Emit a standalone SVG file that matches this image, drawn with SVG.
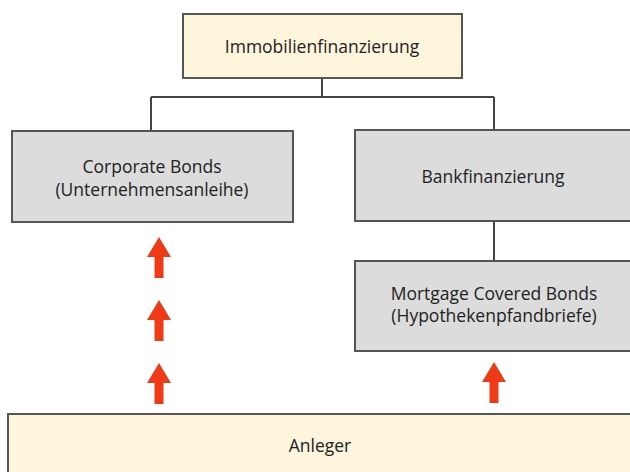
<svg xmlns="http://www.w3.org/2000/svg" width="630" height="472" viewBox="0 0 630 472">
<defs>
<style>
.box{stroke:#555;stroke-width:2}
.cream{fill:#fdf5dc}
.grey{fill:#dcdcdc}
.lbl{font-family:"Open Sans","Noto Sans",sans-serif;font-size:17.5px;fill:#222;text-anchor:middle}
.con{stroke:#444;stroke-width:2;fill:none}
.arr{fill:#ee3a16}
</style>
<path id="up" d="M0,0 L12,20 L4.5,20 L4.5,41 L-4.5,41 L-4.5,20 L-12,20 Z"/>
</defs>
<rect width="630" height="472" fill="#fff"/>
<g id="connectors">
<path class="con" d="M322,78 V97 M151,97 H494 M151,97 V131 M494,97 V130 M494,221 V261"/>
</g>
<g id="immobilienfinanzierung">
<rect class="box cream" x="183" y="14" width="279" height="64"/>
<text class="lbl" x="322" y="53">Immobilienfinanzierung</text>
</g>
<g id="corporate-bonds">
<rect class="box grey" x="12" y="131" width="281" height="91"/>
<text class="lbl" x="152" y="173">Corporate Bonds</text>
<text class="lbl" x="152" y="196">(Unternehmensanleihe)</text>
</g>
<g id="bankfinanzierung">
<rect class="box grey" x="355" y="130" width="280" height="91"/>
<text class="lbl" x="493" y="183">Bankfinanzierung</text>
</g>
<g id="mortgage-covered-bonds">
<rect class="box grey" x="355" y="261" width="280" height="90"/>
<text class="lbl" x="494" y="300">Mortgage Covered Bonds</text>
<text class="lbl" x="494" y="322">(Hypothekenpfandbriefe)</text>
</g>
<g id="anleger">
<rect class="box cream" x="8" y="414" width="626" height="70"/>
<text class="lbl" x="320" y="452">Anleger</text>
</g>
<g id="arrows">
<use href="#up" class="arr" x="159" y="237"/>
<use href="#up" class="arr" x="159" y="300"/>
<use href="#up" class="arr" x="159" y="363"/>
<use href="#up" class="arr" x="494" y="362"/>
</g>
</svg>
